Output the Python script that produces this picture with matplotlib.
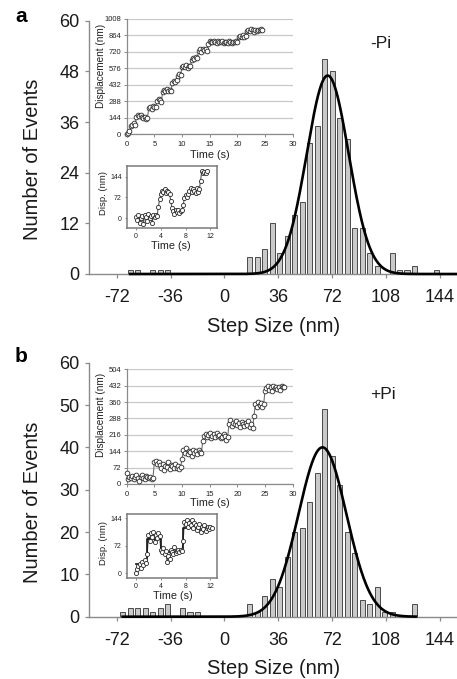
import numpy as np
import matplotlib
matplotlib.use("Agg")
import matplotlib.pyplot as plt

plt.rcParams['font.family'] = ['Liberation Sans', 'DejaVu Sans']
plt.rcParams['axes.unicode_minus'] = False

W, H = 457, 679

# ---------------- data ----------------
step_ticks = [-72, -36, 0, 36, 72, 108, 144]
yticks_a = [0, 12, 24, 36, 48, 60]
yticks_b = [0, 10, 20, 30, 40, 50, 60]

# histogram, panel a (-Pi): bin centres (nm) and counts
bins_a = [-63, -58, -48, -43, -38, 17, 22, 27, 32, 37, 42, 47, 52, 57, 62, 67,
          72, 77, 82, 87, 92, 97, 102, 112, 117, 122, 127, 142]
counts_a = [1, 1, 1, 1, 1, 4, 4, 6, 12, 5, 9, 14, 17, 31, 35, 51,
            48, 37, 32, 11, 11, 5, 2, 5, 1, 1, 2, 1]

# histogram, panel b (+Pi)
bins_b = [-68, -63, -58, -53, -48, -43, -38, -28, -23, -18, 17, 22, 27, 32, 37,
          42, 47, 52, 57, 62, 67, 72, 77, 82, 87, 92, 97, 102, 107, 112, 127]
counts_b = [1, 2, 2, 2, 1, 2, 3, 2, 1, 1, 3, 1, 5, 9, 7,
            14, 20, 21, 27, 34, 49, 38, 31, 20, 15, 4, 3, 7, 1, 1, 3]

# Gaussian fits (amplitude, mean, sigma) and drawn range
fit_a = (47, 69, 14)
fit_b = (40, 65.5, 16)
fit_range_a = (-63, 155.4)
fit_range_b = (-68, 128)

# inset trajectories
dt_long = 0.25
disp_a_long = [0, 10, 25,
               70, 85, 95, 80,
               150, 165, 160, 170, 155,
               140, 150, 135, 145,
               230, 240, 225, 245, 235, 240,
               290, 310, 300, 285,
               370, 385, 380, 395, 375, 390, 380,
               450, 470, 460, 475,
               510, 530, 520,
               585, 600, 590, 605, 580, 600, 595,
               650, 670, 660, 680, 665,
               730, 745, 720, 750, 735, 745, 725,
               790,
               815, 810, 805, 815, 810, 800, 812, 808, 805, 815, 800, 810, 805, 798,
               812, 806, 800, 810, 805, 815, 810,
               850, 860, 855, 865, 850, 862,
               900, 915, 905, 920, 910, 895, 910,
               905, 915, 910, 920, 912]

disp_b_long = [50, 20,
               30, 25, 35, 20, 30, 38, 25, 15, 30, 40, 28, 22, 35, 30, 25, 32, 20, 28,
               95, 100, 90, 98,
               85, 70, 90, 60, 80, 75, 95, 65, 85, 78, 70, 88, 72, 80, 65, 75,
               110,
               150, 135, 160, 130, 145, 140, 125, 150, 138, 145, 132, 148, 140, 135,
               190,
               210, 220, 205, 215, 225, 200, 212, 218, 208, 222, 210, 215, 200, 205, 218, 212, 195, 208,
               265, 280, 255, 270, 262, 275, 258, 268, 250, 272, 265, 255, 270, 260, 275, 250, 262, 245,
               300,
               350, 340, 360, 345, 355, 338, 350,
               410,
               420, 430, 415, 425, 410, 432, 420, 428, 418, 425, 415, 430, 425, 428]

dt_short = 0.2
disp_a_short = [5, -5, 10, -15, 0, 8, -20, 12, 5, -10, 15, 0, 8, -18, 10, 5, 12, 8,
                40, 65,
                85, 95, 90, 100, 88, 95, 92, 85,
                60, 35,
                25, 15, 30, 20, 28, 18, 25, 30,
                45, 70, 80, 75, 85,
                95, 105, 90, 100, 95, 88, 105, 92, 100,
                130,
                165, 155, 160, 158, 162]

disp_b_short = [0, 10, 18, 25, 15, 30, 22, 35, 28,
                50,
                100, 85, 105, 95, 108, 82, 100, 92, 104, 98,
                60, 55, 65, 50, 58, 30, 45, 38, 62, 55, 50, 68, 52, 58, 60, 55, 62, 58,
                85,
                135, 128, 140, 122, 132, 125, 138, 118, 130, 126, 112, 120, 128, 108,
                122, 115, 125, 110, 118, 122, 115, 120, 118]
# step fit for panel b short trace
fit_b_times = [0, 1.8, 4.0, 7.6, 12.3]
fit_b_levels = [25, 90, 55, 118]

# ---------------- drawing ----------------
fig = plt.figure(figsize=(W / 100, H / 100), dpi=100)


def box(l, t, r, b):
    return [l / W, 1 - b / H, (r - l) / W, (b - t) / H]


def ftext(x, y, s, **kw):
    fig.text(x / W, 1 - y / H, s, **kw)


SP = '#8a8a8a'


def main_panel(rect, bins, counts, fit, frange, yticks, label_txt):
    ax = fig.add_axes(rect)
    ax.bar(bins, counts, width=3.4, color='#c9c9c9', edgecolor='#4a4a4a',
           linewidth=0.7, zorder=2)
    amp, mu, sg = fit
    xs = np.linspace(frange[0], frange[1], 600)
    ax.plot(xs, amp * np.exp(-0.5 * ((xs - mu) / sg) ** 2), color='black',
            lw=1.9, zorder=3, clip_on=False)
    ax.set_xlim(-90.3, 155.4)
    ax.set_ylim(0, 60)
    ax.set_xticks(step_ticks)
    ax.set_yticks(yticks)
    for s in ['top', 'right']:
        ax.spines[s].set_visible(False)
    for s in ['left', 'bottom']:
        ax.spines[s].set_color(SP)
        ax.spines[s].set_linewidth(1.0)
    ax.tick_params(axis='both', colors=SP, labelcolor='#1a1a1a', length=3,
                   width=0.9, labelsize=13)
    ax.tick_params(axis='x', pad=8)
    ax.tick_params(axis='y', pad=4)
    ax.text(97.5, label_txt[1], label_txt[0], fontsize=12.5, va='center',
            ha='left', color='#1a1a1a')
    return ax


def long_inset(rect, disp, ymax, ystep):
    ax = fig.add_axes(rect)
    t = np.arange(len(disp)) * dt_long
    ax.plot(t, disp, color='#707070', lw=0.8, zorder=2)
    ax.plot(t, disp, 'o', mfc='white', mec='#2a2a2a', ms=3.4, mew=0.6, zorder=3,
            clip_on=False)
    ax.set_xlim(0, 30)
    ax.set_ylim(0, ymax)
    ax.set_xticks(range(0, 31, 5))
    ax.set_yticks(range(0, ymax + 1, ystep))
    ax.grid(axis='y', color='#c8c8c8', lw=0.9)
    ax.set_axisbelow(True)
    for s in ['top', 'right']:
        ax.spines[s].set_visible(False)
    for s in ['left', 'bottom']:
        ax.spines[s].set_color(SP)
        ax.spines[s].set_linewidth(0.9)
    ax.tick_params(colors=SP, labelcolor='#222222', length=2, width=0.7,
                   labelsize=5.5)
    ax.tick_params(axis='x', pad=3)
    ax.tick_params(axis='y', pad=2)
    ax.patch.set_alpha(0)
    return ax


def short_inset(rect, disp, ylim):
    ax = fig.add_axes(rect)
    t = np.arange(len(disp)) * dt_short
    ax.plot(t, disp, color='#555555', lw=0.8, zorder=2)
    ax.plot(t, disp, 'o', mfc='white', mec='#2a2a2a', ms=3.0, mew=0.6, zorder=3)
    ax.set_xlim(-1.5, 13)
    ax.set_ylim(*ylim)
    ax.set_xticks([0, 4, 8, 12])
    ax.set_yticks([0, 72, 144])
    for s in ax.spines.values():
        s.set_color('#7a7a7a')
        s.set_linewidth(1.1)
    ax.tick_params(colors='#7a7a7a', labelcolor='#222222', length=1.5,
                   width=0.6, labelsize=5)
    ax.tick_params(axis='x', pad=2)
    ax.tick_params(axis='y', pad=2)
    return ax


# panel a
axA = main_panel(box(89.3, 20.7, 457, 274), bins_a, counts_a, fit_a,
                 fit_range_a, yticks_a, ('-Pi', 54.7))
# panel b
axB = main_panel(box(89.3, 362.7, 457, 616.7), bins_b, counts_b, fit_b,
                 fit_range_b, yticks_b, ('+Pi', 52.6))

# insets panel a
long_inset(box(126.7, 19, 292.7, 134.3), disp_a_long, 1008, 144)
short_inset(box(126.7, 166, 216.7, 228.3), disp_a_short, (-35, 181))
# insets panel b
long_inset(box(126.7, 369.3, 292.7, 484), disp_b_long, 504, 72)
axb2 = short_inset(box(126.7, 514.3, 216.7, 578.3), disp_b_short, (-13, 154))
axb2.step(fit_b_times, fit_b_levels + [fit_b_levels[-1]], where='post',
          color='#111111', lw=1.2, zorder=2.5)

# labels
for yc_lab, yc_x in [(159, 326), (502.5, 668)]:
    ftext(32.5, yc_lab, 'Number of Events', rotation=90, fontsize=14.5,
          ha='center', va='center', color='#1a1a1a')
    ftext(273.3, yc_x, 'Step Size (nm)', fontsize=14.5, ha='center',
          va='center', color='#1a1a1a')
ftext(21, 17, 'a', fontsize=15, fontweight='bold', ha='center', va='center')
ftext(21, 356.5, 'b', fontsize=15, fontweight='bold', ha='center', va='center')

# inset labels
ftext(101, 66, 'Displacement (nm)', rotation=90, fontsize=7.2, ha='center',
      va='center', color='#222222')
ftext(209.5, 155, 'Time (s)', fontsize=7.8, ha='center', va='center',
      color='#222222')
ftext(101, 415, 'Displacement (nm)', rotation=90, fontsize=7.2, ha='center',
      va='center', color='#222222')
ftext(209.5, 503, 'Time (s)', fontsize=7.8, ha='center', va='center',
      color='#222222')
ftext(103, 193, 'Disp. (nm)', rotation=90, fontsize=6.8, ha='center',
      va='center', color='#222222')
ftext(171, 246, 'Time (s)', fontsize=7.8, ha='center', va='center',
      color='#222222')
ftext(103, 543, 'Disp. (nm)', rotation=90, fontsize=6.8, ha='center',
      va='center', color='#222222')
ftext(172.5, 596, 'Time (s)', fontsize=7.8, ha='center', va='center',
      color='#222222')

fig.savefig('out.png', dpi=100)
